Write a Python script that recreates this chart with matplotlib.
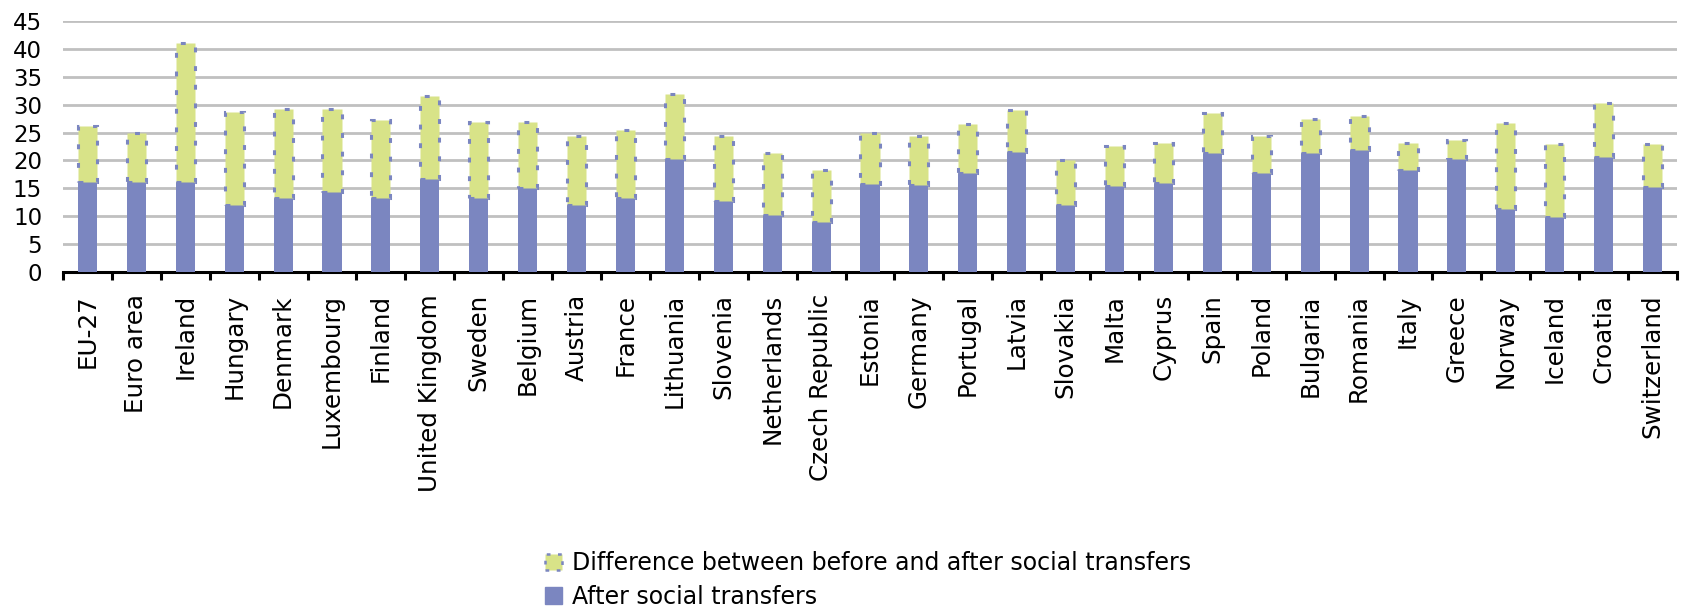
import numpy as np
import matplotlib.pyplot as plt
from matplotlib.patches import Patch

paises = ['EU-27', 'Euro area', 'Ireland', 'Hungary', 'Denmark', 'Luxembourg',
          'Finland', 'United Kingdom', 'Sweden', 'Belgium', 'Austria', 'France',
          'Lithuania', 'Slovenia', 'Netherlands', 'Czech Republic', 'Estonia',
          'Germany', 'Portugal', 'Latvia', 'Slovakia', 'Malta', 'Cyprus', 'Spain',
          'Poland', 'Bulgaria', 'Romania', 'Italy', 'Greece', 'Norway', 'Iceland',
          'Croatia', 'Switzerland']

# tasa de riesgo de pobreza despues de transferencias sociales (%)
despues = [16.1, 16.1, 16.1, 12.0, 13.3, 14.3, 13.3, 16.7, 13.3, 15.1, 12.0, 13.3,
           20.3, 12.8, 10.2, 8.9, 15.7, 15.6, 17.8, 21.5, 12.0, 15.4, 16.0, 21.3,
           17.7, 21.3, 21.9, 18.2, 20.3, 11.3, 9.9, 20.7, 15.3]

# antes de transferencias (total de la barra)
antes = [26.1, 25.0, 41.0, 28.6, 29.2, 29.2, 27.3, 31.5, 26.9, 26.9, 24.3, 25.5,
         31.9, 24.3, 21.3, 18.2, 25.0, 24.3, 26.5, 29.1, 20.0, 22.6, 23.2, 28.5,
         24.3, 27.4, 27.9, 23.2, 23.7, 26.7, 22.9, 30.3, 22.9]

diferencia = [a - d for a, d in zip(antes, despues)]

AZUL = '#7B86C0'
VERDE = '#D8E388'
GUIONES = (0, (1.6, 4.5))

fig = plt.figure(figsize=(16.83, 6.10), dpi=100)
ax = fig.add_axes([63 / 1683, 1 - 272 / 610, (1677 - 63) / 1683, (272 - 21) / 610])

x = np.arange(len(paises))
ancho = 0.39
ax.bar(x, despues, ancho, color=AZUL, zorder=3)
ax.bar(x, diferencia, ancho, bottom=despues, color=VERDE, edgecolor=AZUL,
       linewidth=2.2, linestyle=GUIONES, zorder=3)

ax.set_xlim(-0.5, len(paises) - 0.5)
ax.set_ylim(0, 45)
ax.set_yticks(range(0, 46, 5))
ax.yaxis.grid(True, color='#C0C0C0', linewidth=2)
ax.set_axisbelow(True)

for lado in ['top', 'right', 'left']:
    ax.spines[lado].set_visible(False)
ax.spines['bottom'].set_linewidth(2.2)
ax.spines['bottom'].set_color('black')

ax.set_xticks(x)
ax.set_xticklabels(paises, rotation=90, fontsize=17.7)
ax.set_xticks(np.arange(-0.5, len(paises)), minor=True)
ax.tick_params(axis='x', which='major', length=0, pad=16)
ax.tick_params(axis='x', which='minor', length=6, width=2.2, color='black')
ax.tick_params(axis='y', length=0, pad=15, labelsize=16.5)

handles = [Patch(facecolor=VERDE, edgecolor=AZUL, linestyle=(0, (1.5, 3)), linewidth=1.8),
           Patch(facecolor=AZUL, edgecolor=AZUL)]
etiquetas = ['Difference between before and after social transfers', 'After social transfers']
fig.legend(handles, etiquetas, loc='center left', bbox_to_anchor=(545 / 1683, 1 - 580 / 610),
           frameon=False, fontsize=17, handlelength=0.7, handleheight=0.7,
           handletextpad=0.45, labelspacing=0.4, borderpad=0, borderaxespad=0)

fig.savefig('out.png', dpi=100)
